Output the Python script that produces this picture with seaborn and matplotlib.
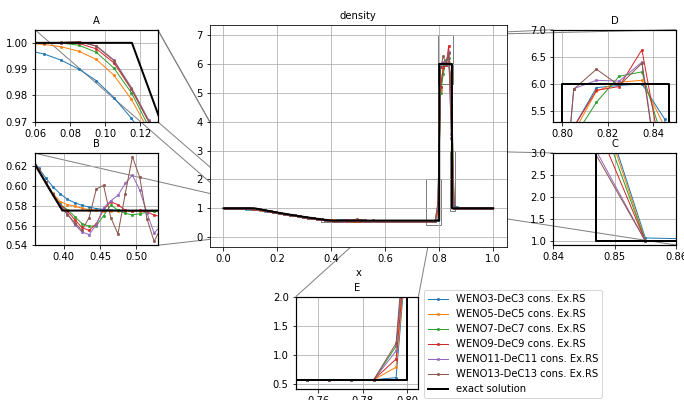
import numpy as np
import matplotlib
matplotlib.use('Agg')
import matplotlib.pyplot as plt
import seaborn as sns
from mpl_toolkits.axes_grid1.inset_locator import mark_inset

plt.rcParams.update({'font.size': 10, 'axes.titlesize': 10})

# cell centres (100 cells on [0,1])
x_cells = np.round(np.linspace(0.005, 0.995, 100), 3)

weno3 = [1.0, 0.9999, 0.9996, 0.9991, 0.9983, 0.9972, 0.9958, 0.9934, 0.9900, 0.9856,
         0.9792, 0.9713, 0.9615, 0.9515, 0.9395, 0.9240, 0.9088, 0.8928, 0.8766, 0.8604,
         0.8442, 0.8283, 0.8125, 0.7970, 0.7816, 0.7665, 0.7517, 0.7370, 0.7226, 0.7085,
         0.6946, 0.6809, 0.6675, 0.6543, 0.6415, 0.6290, 0.6180, 0.6080, 0.5990, 0.5920,
         0.5865, 0.5830, 0.5805, 0.5785, 0.5772, 0.5762, 0.5756, 0.5752, 0.5749, 0.5748,
         0.5747, 0.5747, 0.5747, 0.5748, 0.5749, 0.5750, 0.5751, 0.5751, 0.5751, 0.5751,
         0.5751, 0.5751, 0.5751, 0.5751, 0.5751, 0.5751, 0.5751, 0.5751, 0.5751, 0.5751,
         0.5751, 0.5751, 0.5751, 0.5751, 0.5751, 0.5751, 0.5751, 0.5751, 0.5752, 0.61,
         5.20, 5.93, 5.97, 6.00, 5.35, 1.07, 1.04, 1.015, 1.005, 1.0,
         1.0, 1.0, 1.0, 1.0, 1.0, 1.0, 1.0, 1.0, 1.0, 1.0]

weno5 = [1.0, 1.0, 1.0, 1.0, 1.0, 0.9998, 0.9994, 0.9985, 0.9968, 0.9937,
         0.9877, 0.9785, 0.9665, 0.9580, 0.9435, 0.9275, 0.9108, 0.8940, 0.8773, 0.8608,
         0.8444, 0.8284, 0.8125, 0.7970, 0.7816, 0.7665, 0.7517, 0.7370, 0.7226, 0.7084,
         0.6945, 0.6807, 0.6672, 0.6540, 0.6410, 0.6284, 0.6160, 0.6040, 0.5925, 0.5840,
         0.5812, 0.5795, 0.5775, 0.5760, 0.5753, 0.5750, 0.5749, 0.5750, 0.5751, 0.5751,
         0.5751, 0.5751, 0.5751, 0.5751, 0.5751, 0.5751, 0.5751, 0.5751, 0.5751, 0.5751,
         0.5751, 0.5751, 0.5751, 0.5751, 0.5751, 0.5751, 0.5751, 0.5751, 0.5751, 0.5751,
         0.5751, 0.5751, 0.5751, 0.5751, 0.5751, 0.5751, 0.5751, 0.5751, 0.5751, 0.79,
         5.10, 5.865, 6.03, 6.065, 5.20, 1.01, 1.0, 1.0, 1.0, 1.0,
         1.0, 1.0, 1.0, 1.0, 1.0, 1.0, 1.0, 1.0, 1.0, 1.0]

weno7 = [1.0, 1.0, 1.0, 1.0, 1.0, 1.0, 1.0, 0.9999, 0.9991, 0.9964,
         0.9904, 0.9810, 0.9680, 0.9600, 0.9450, 0.9282, 0.9111, 0.8941, 0.8773, 0.8608,
         0.8444, 0.8284, 0.8125, 0.7970, 0.7816, 0.7665, 0.7517, 0.7370, 0.7226, 0.7084,
         0.6945, 0.6807, 0.6672, 0.6539, 0.6408, 0.6285, 0.6162, 0.6035, 0.5915, 0.5815,
         0.5760, 0.5690, 0.5620, 0.5592, 0.5598, 0.5700, 0.5805, 0.5755, 0.5722, 0.5709,
         0.5718, 0.5735, 0.5745, 0.5750, 0.5752, 0.5751, 0.5751, 0.5751, 0.5751, 0.5751,
         0.5751, 0.5751, 0.5751, 0.5751, 0.5751, 0.5751, 0.5751, 0.5751, 0.5751, 0.5751,
         0.5751, 0.5751, 0.5751, 0.5751, 0.5751, 0.5751, 0.5751, 0.5751, 0.5751, 1.15,
         5.00, 5.66, 6.14, 6.22, 4.85, 1.0, 1.0, 1.0, 1.0, 1.0,
         1.0, 1.0, 1.0, 1.0, 1.0, 1.0, 1.0, 1.0, 1.0, 1.0]

weno9 = [1.0, 1.0, 1.0, 1.0, 1.0, 1.0, 1.0, 1.0, 0.9998, 0.9977,
         0.9924, 0.9823, 0.9698, 0.9610, 0.9455, 0.9284, 0.9112, 0.8941, 0.8773, 0.8608,
         0.8444, 0.8284, 0.8125, 0.7970, 0.7816, 0.7665, 0.7517, 0.7370, 0.7226, 0.7084,
         0.6945, 0.6807, 0.6672, 0.6539, 0.6408, 0.6285, 0.6163, 0.6036, 0.5914, 0.5810,
         0.5745, 0.5660, 0.5580, 0.5550, 0.5620, 0.5760, 0.5840, 0.5810, 0.5755, 0.5742,
         0.5752, 0.5738, 0.5705, 0.5690, 0.5720, 0.5745, 0.5752, 0.5751, 0.5751, 0.5751,
         0.5751, 0.5751, 0.5751, 0.5751, 0.5751, 0.5751, 0.5751, 0.5751, 0.5751, 0.5751,
         0.5751, 0.5751, 0.5751, 0.5751, 0.5751, 0.5751, 0.5751, 0.5751, 0.5751, 0.93,
         5.20, 5.88, 5.95, 6.63, 4.33, 1.0, 1.0, 1.0, 1.0, 1.0,
         1.0, 1.0, 1.0, 1.0, 1.0, 1.0, 1.0, 1.0, 1.0, 1.0]

weno11 = [1.0, 1.0, 1.0, 1.0, 1.0, 1.0, 1.0, 1.0001, 1.0003, 0.9989,
          0.9935, 0.9830, 0.9705, 0.9615, 0.9458, 0.9285, 0.9112, 0.8941, 0.8773, 0.8608,
          0.8444, 0.8284, 0.8125, 0.7970, 0.7816, 0.7665, 0.7517, 0.7370, 0.7226, 0.7084,
          0.6945, 0.6807, 0.6672, 0.6539, 0.6408, 0.6288, 0.6166, 0.6040, 0.5915, 0.5805,
          0.5720, 0.5610, 0.5535, 0.5508, 0.5610, 0.5780, 0.5850, 0.5905, 0.6025, 0.6110,
          0.5960, 0.5730, 0.5525, 0.5600, 0.5720, 0.5770, 0.5755, 0.5751, 0.5751, 0.5751,
          0.5751, 0.5751, 0.5751, 0.5751, 0.5751, 0.5751, 0.5751, 0.5751, 0.5751, 0.5751,
          0.5751, 0.5751, 0.5751, 0.5751, 0.5751, 0.5751, 0.5751, 0.5751, 0.5751, 1.07,
          5.91, 6.065, 6.05, 6.40, 3.56, 1.0, 1.0, 1.0, 1.0, 1.0,
          1.0, 1.0, 1.0, 1.0, 1.0, 1.0, 1.0, 1.0, 1.0, 1.0]

weno13 = [1.0, 1.0, 1.0, 1.0, 1.0, 1.0, 1.0, 1.0002, 1.0005, 0.9987,
          0.9932, 0.9826, 0.9700, 0.9612, 0.9457, 0.9285, 0.9112, 0.8941, 0.8773, 0.8608,
          0.8444, 0.8284, 0.8125, 0.7970, 0.7816, 0.7665, 0.7517, 0.7370, 0.7226, 0.7084,
          0.6945, 0.6807, 0.6672, 0.6539, 0.6408, 0.6290, 0.6168, 0.6042, 0.5915, 0.5800,
          0.5710, 0.5630, 0.5550, 0.5680, 0.5970, 0.6005, 0.5680, 0.5515, 0.5920, 0.6295,
          0.6090, 0.5670, 0.5440, 0.5580, 0.5760, 0.5790, 0.5750, 0.5751, 0.5751, 0.5751,
          0.5751, 0.5751, 0.5751, 0.5751, 0.5751, 0.5751, 0.5751, 0.5751, 0.5751, 0.5751,
          0.5751, 0.5751, 0.5751, 0.5751, 0.5751, 0.5751, 0.5751, 0.5751, 0.5751, 1.20,
          5.90, 6.27, 5.97, 6.38, 3.44, 1.0, 1.0, 1.0, 1.0, 1.0,
          1.0, 1.0, 1.0, 1.0, 1.0, 1.0, 1.0, 1.0, 1.0, 1.0]

x_exact = [0.0, 0.1153, 0.14, 0.16, 0.18, 0.20, 0.22, 0.24, 0.26, 0.28, 0.30,
           0.32, 0.34, 0.36, 0.38, 0.398, 0.7997, 0.7997, 0.847, 0.847, 1.0]
rho_exact = [1.0, 1.0, 0.9550, 0.9198, 0.8857, 0.8526, 0.8204, 0.7893, 0.7591, 0.7298, 0.7014,
             0.6740, 0.6473, 0.6216, 0.5967, 0.5751, 0.5751, 6.0, 6.0, 1.0, 1.0]

scheme_names = ['WENO3-DeC3 cons. Ex.RS', 'WENO5-DeC5 cons. Ex.RS', 'WENO7-DeC7 cons. Ex.RS',
                'WENO9-DeC9 cons. Ex.RS', 'WENO11-DeC11 cons. Ex.RS', 'WENO13-DeC13 cons. Ex.RS']
series = [weno3, weno5, weno7, weno9, weno11, weno13]
colors = sns.color_palette('tab10', 6)


def draw(ax):
    for name, vals, col in zip(scheme_names, series, colors):
        sns.lineplot(x=x_cells, y=vals, ax=ax, color=col, lw=1, marker='.', ms=5,
                     mec=col, mew=0.5, label=name, legend=False, estimator=None, sort=False)
    sns.lineplot(x=x_exact, y=rho_exact, ax=ax, color='k', lw=2, label='exact solution',
                 legend=False, estimator=None, sort=False)
    ax.grid(True)


W, H = 684, 400
fig = plt.figure(figsize=(W / 72, H / 72), dpi=72)

ax = fig.add_axes([210 / W, 1 - 246.7 / H, 296.7 / W, 221.7 / H])
draw(ax)
ax.set_xlim(-0.05, 1.05)
ax.set_ylim(-0.33, 7.35)
ax.set_title('density')
ax.set_xlabel('x')
ax.set_zorder(3)

iw, ih = 122.7 / W, 92 / H
insets = {
    # name: (left px, bottom px, xlim, ylim, xticks, yticks)
    'A': (35, 121.7, (0.06, 0.13), (0.97, 1.005), [0.06, 0.08, 0.10, 0.12], [0.97, 0.98, 0.99, 1.00]),
    'B': (35, 245.3, (0.36, 0.53), (0.54, 0.633), [0.40, 0.45, 0.50], [0.54, 0.56, 0.58, 0.60, 0.62]),
    'D': (553.3, 121.7, (0.796, 0.85), (5.3, 7.0), [0.80, 0.82, 0.84], [5.5, 6.0, 6.5, 7.0]),
    'C': (553.3, 245, (0.84, 0.86), (0.91, 3.0), [0.84, 0.85, 0.86], [1.0, 1.5, 2.0, 2.5, 3.0]),
    'E': (295.7, 388.7, (0.75, 0.805), (0.42, 2.0), [0.76, 0.78, 0.80], [0.5, 1.0, 1.5, 2.0]),
}
locs = {'A': [(2, 4), (1, 1)], 'B': [(2, 4)], 'C': [(2, 4)], 'D': [(2, 1)], 'E': [(2, 1)]}

for name, (lx, by, xl, yl, xt, yt) in insets.items():
    axi = fig.add_axes([lx / W, 1 - by / H, iw, ih])
    draw(axi)
    axi.set_xlim(*xl)
    axi.set_ylim(*yl)
    axi.set_xticks(xt)
    axi.set_yticks(yt)
    axi.set_title(name)
    for s in axi.spines.values():
        s.set_linewidth(1.2)
    for l1, l2 in locs[name]:
        mark_inset(ax, axi, loc1=l1, loc2=l2, fc='none', ec='0.5')

handles, labels = ax.get_legend_handles_labels()
fig.legend(handles, labels, loc='upper left', bbox_to_anchor=(424 / W, 1 - 290 / H),
           borderaxespad=0)

fig.savefig('out.png', dpi=72)
